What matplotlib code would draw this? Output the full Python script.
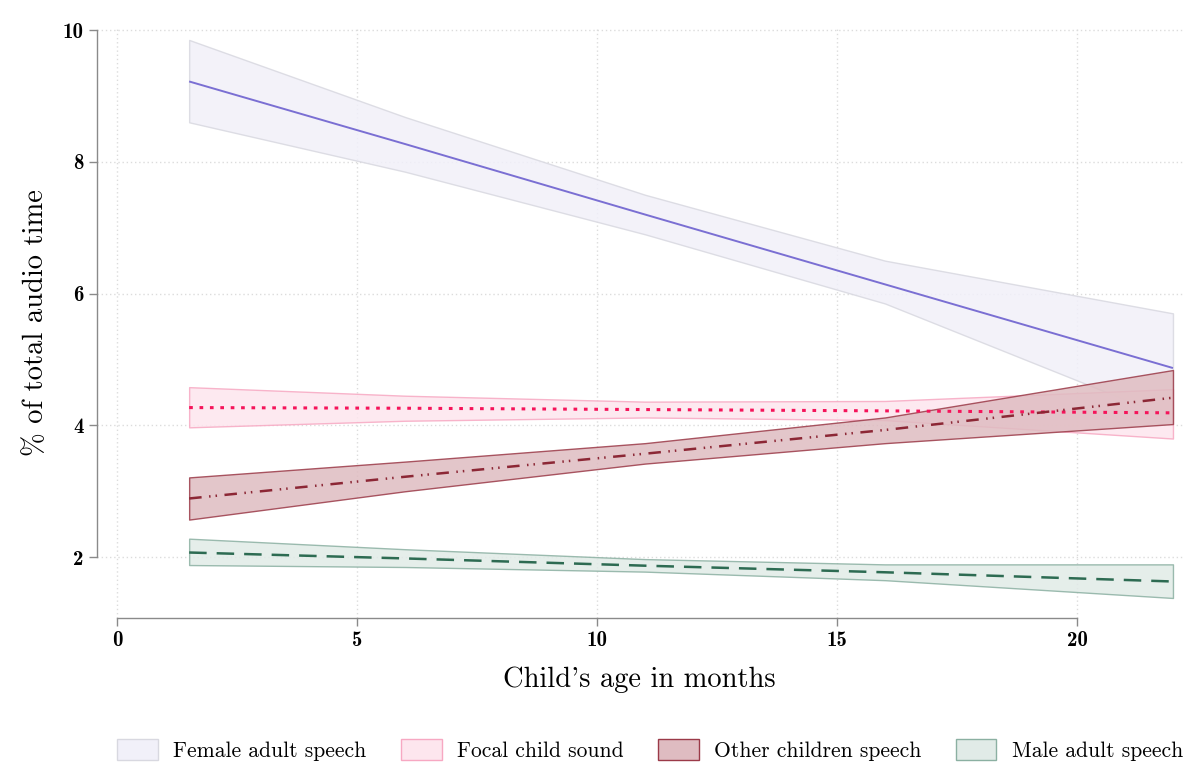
import matplotlib
matplotlib.use("Agg")
import matplotlib.pyplot as plt
from matplotlib.patches import Patch
import numpy as np

plt.rcParams['font.family'] = ['cmr10', 'DejaVu Serif']
plt.rcParams['axes.unicode_minus'] = False
plt.rcParams['mathtext.fontset'] = 'cm'

# age points (months)
age = [1.5, 6, 11, 16, 22]

female_mean = [9.22, 8.27, 7.20, 6.14, 4.87]
female_lo = [8.60, 7.85, 6.90, 5.85, 4.10]
female_hi = [9.85, 8.68, 7.50, 6.50, 5.70]

focal_mean = [4.27, 4.26, 4.24, 4.22, 4.19]
focal_lo = [3.97, 4.07, 4.12, 4.08, 3.80]
focal_hi = [4.58, 4.45, 4.36, 4.37, 4.55]

other_mean = [2.89, 3.22, 3.57, 3.93, 4.42]
other_lo = [2.57, 3.00, 3.42, 3.73, 4.02]
other_hi = [3.21, 3.45, 3.73, 4.12, 4.84]

male_mean = [2.07, 1.98, 1.87, 1.77, 1.63]
male_lo = [1.88, 1.85, 1.78, 1.65, 1.38]
male_hi = [2.28, 2.12, 1.97, 1.89, 1.89]

labels = ["Female adult speech", "Focal child sound",
          "Other children speech", "Male adult speech"]

fig = plt.figure(figsize=(11.86, 7.65), dpi=100)
ax = fig.add_axes([0.0818, 0.1925, 0.9153, 0.7725])

series = [
    (female_mean, female_lo, female_hi, "#7a6fd3", "#f1f0f9", "#d8d8e0", (0, ()), 1.4),
    (focal_mean, focal_lo, focal_hi, "#f5145a", "#fde6ee", "#f7a8c2", (0, (1.2, 2.2)), 2.2),
    (other_mean, other_lo, other_hi, "#8c2735", "#dfbcc1", "#9b3a48", (0, (5, 3, 0.6, 2, 0.6, 3)), 1.8),
    (male_mean, male_lo, male_hi, "#2d6b52", "#e1ebe7", "#8bb0a2", (0, (7, 4)), 1.8),
]

handles = []
for (m, lo, hi, lc, fc, ec, ls, lw), lab in zip(series, labels):
    ax.fill_between(age, lo, hi, facecolor=fc, edgecolor=ec, linewidth=1.0, alpha=0.85)
    ax.plot(age, m, color=lc, linestyle=ls, linewidth=lw)
    handles.append(Patch(facecolor=fc, edgecolor=ec, linewidth=1.0, label=lab))

ax.set_xlim(-0.42, 22.2)
ax.set_ylim(1.08, 10.05)
ax.set_xticks([0, 5, 10, 15, 20])
ax.set_yticks([2, 4, 6, 8, 10])
ax.grid(True, color="#dcdcdc", linestyle=(0, (1, 2)), linewidth=1.0)
ax.set_axisbelow(True)

for s in ["top", "right"]:
    ax.spines[s].set_visible(False)
ax.spines["left"].set_bounds(2, 10)
ax.spines["bottom"].set_bounds(0, 20)
for s in ["left", "bottom"]:
    ax.spines[s].set_color("#8a8a8a")
    ax.spines[s].set_linewidth(1.0)
ax.tick_params(colors="#8a8a8a", labelcolor="black", length=6, width=1.0, labelsize=15)
for t in ax.get_xticklabels() + ax.get_yticklabels():
    t.set_family(['cmb10', 'cmr10'])

ax.set_xlabel("Child's age in months", fontsize=20.5, labelpad=12)
ax.set_ylabel("% of total audio time", fontsize=20.5, labelpad=10)

fig.legend(handles=handles, loc="center", bbox_to_anchor=(0.548, 0.02), ncol=4,
           frameon=False, fontsize=15.5, handlelength=1.9, handleheight=1.1,
           columnspacing=1.6, handletextpad=0.7)

fig.savefig("out.png", dpi=100)
